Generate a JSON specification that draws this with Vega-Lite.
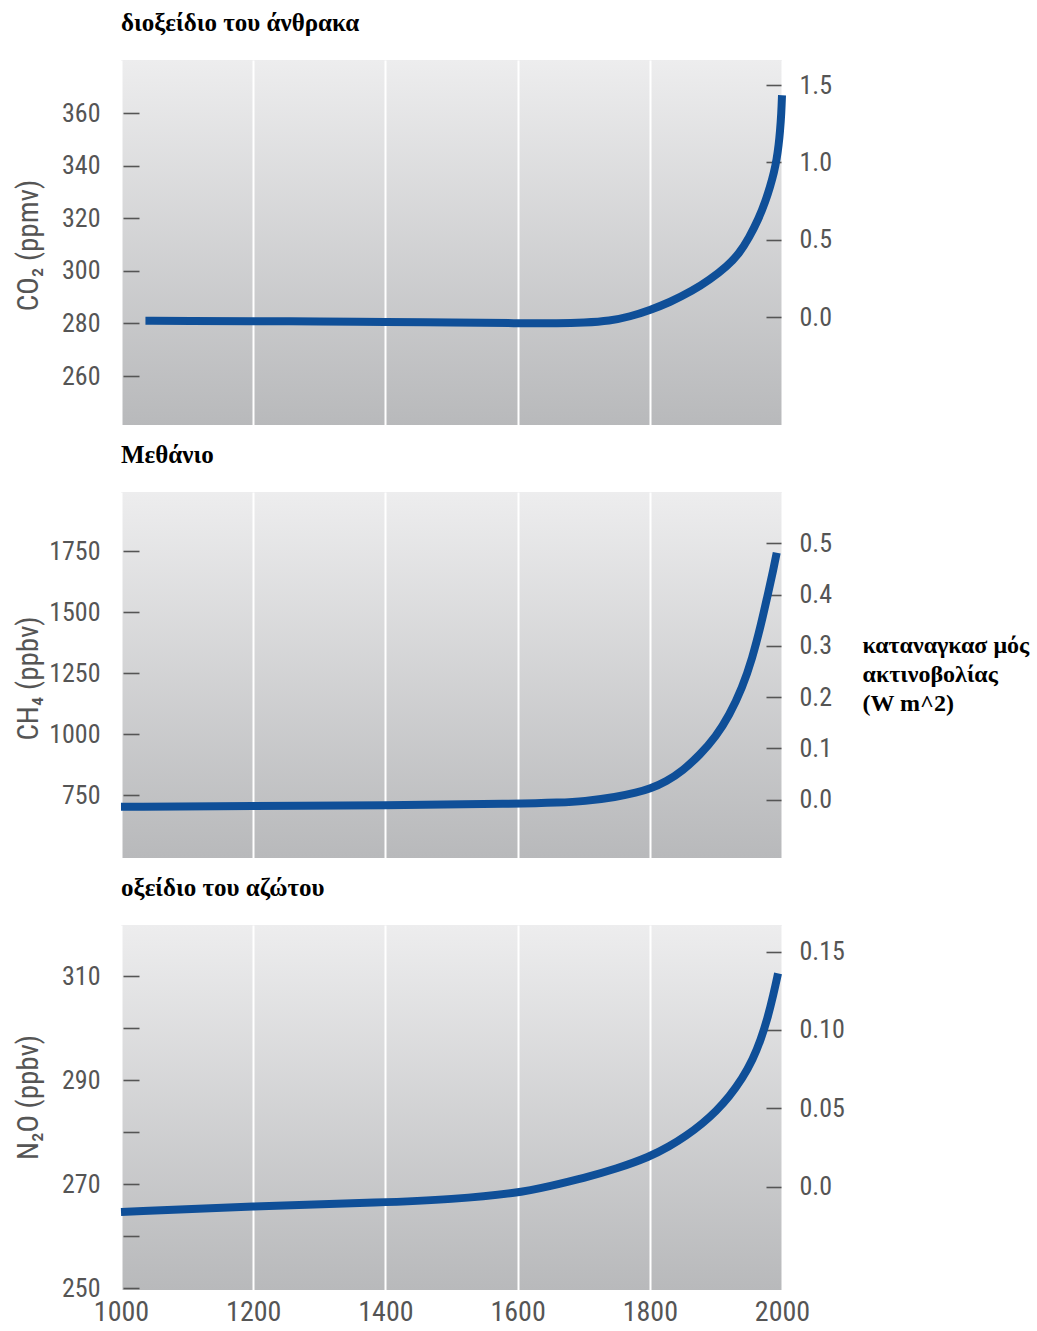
{
  "$schema": "https://vega.github.io/schema/vega-lite/v6.json",
  "padding": {"left": 14, "top": 11, "right": 5, "bottom": 5},
  "background": "white",
  "datasets": {
    "co2": [
      {"year": 1037, "v": 281.0}, {"year": 1100, "v": 281.0}, {"year": 1200, "v": 280.9},
      {"year": 1300, "v": 280.8}, {"year": 1400, "v": 280.6}, {"year": 1500, "v": 280.4},
      {"year": 1600, "v": 280.1}, {"year": 1664, "v": 280.0}, {"year": 1700, "v": 280.3},
      {"year": 1740, "v": 281.0}, {"year": 1770, "v": 282.6}, {"year": 1800, "v": 285.1},
      {"year": 1830, "v": 288.0}, {"year": 1865, "v": 292.5}, {"year": 1890, "v": 296.5},
      {"year": 1917, "v": 301.8}, {"year": 1935, "v": 306.5}, {"year": 1950, "v": 312.5},
      {"year": 1965, "v": 320.0}, {"year": 1975, "v": 326.5}, {"year": 1982, "v": 332.0},
      {"year": 1988, "v": 337.5}, {"year": 1992, "v": 342.5}, {"year": 1995, "v": 348.0},
      {"year": 1997, "v": 353.0}, {"year": 1999, "v": 360.0}, {"year": 2000, "v": 366.8}
    ],
    "ch4": [
      {"year": 1000, "v": 702}, {"year": 1200, "v": 705}, {"year": 1400, "v": 708},
      {"year": 1600, "v": 714}, {"year": 1664, "v": 719}, {"year": 1700, "v": 724},
      {"year": 1750, "v": 742}, {"year": 1780, "v": 760}, {"year": 1800, "v": 775},
      {"year": 1825, "v": 805}, {"year": 1850, "v": 850}, {"year": 1876, "v": 915},
      {"year": 1900, "v": 990}, {"year": 1920, "v": 1075}, {"year": 1940, "v": 1190},
      {"year": 1955, "v": 1310}, {"year": 1968, "v": 1445}, {"year": 1980, "v": 1590},
      {"year": 1987, "v": 1675}, {"year": 1992, "v": 1743}
    ],
    "n2o": [
      {"year": 1000, "v": 264.7}, {"year": 1200, "v": 265.8}, {"year": 1400, "v": 266.5},
      {"year": 1500, "v": 267.1}, {"year": 1600, "v": 268.3}, {"year": 1650, "v": 269.7},
      {"year": 1700, "v": 271.2}, {"year": 1750, "v": 273.0}, {"year": 1800, "v": 275.3},
      {"year": 1830, "v": 277.3}, {"year": 1855, "v": 279.3}, {"year": 1880, "v": 281.7},
      {"year": 1900, "v": 284.0}, {"year": 1920, "v": 286.8}, {"year": 1940, "v": 290.3},
      {"year": 1956, "v": 294.0}, {"year": 1968, "v": 297.8}, {"year": 1978, "v": 301.8},
      {"year": 1987, "v": 306.4}, {"year": 1994, "v": 310.5}
    ],
    "rf": [{"f": 0}]
  },
  "vconcat": [
    {
      "width": 661, "height": 365,
      "title": {"text": "διοξείδιο του άνθρακα"},
      "layer": [
        {
          "data": {"name": "co2"},
          "mark": {"type": "line", "color": "#0f4f98", "strokeWidth": 8, "interpolate": "basis"},
          "encoding": {
            "x": {"field": "year", "type": "quantitative", "scale": {"domain": [1000, 2000], "nice": false, "zero": false},
                  "axis": {"values": [1000, 1200, 1400, 1600, 1800, 2000], "labels": false, "ticks": false, "grid": true, "gridColor": "white", "gridWidth": 2, "title": null}},
            "y": {"field": "v", "type": "quantitative", "scale": {"domain": [241.4, 380.2], "nice": false, "zero": false},
                  "axis": {"orient": "left", "values": [260, 280, 300, 320, 340, 360], "format": "d", "offset": -18, "tickSize": 16, "labelPadding": 23,
                           "title": "CO₂ (ppmv)", "titleX": -111, "titleY": 185, "titleBaseline": "middle", "titleAlign": "center", "titleAngle": 270}}
          }
        },
        {
          "data": {"name": "rf"},
          "mark": {"type": "point", "opacity": 0},
          "encoding": {
            "y": {"field": "f", "type": "quantitative", "scale": {"domain": [-0.698, 1.662], "nice": false, "zero": false},
                  "axis": {"orient": "right", "values": [0, 0.5, 1, 1.5], "format": ".1f", "offset": -16, "tickSize": 15, "labelPadding": 18, "title": null}}
          }
        }
      ],
      "resolve": {"scale": {"y": "independent"}}
    },
    {
      "width": 661, "height": 366,
      "title": {"text": "Μεθάνιο"},
      "layer": [
        {
          "data": {"name": "ch4"},
          "mark": {"type": "line", "color": "#0f4f98", "strokeWidth": 8, "interpolate": "basis"},
          "encoding": {
            "x": {"field": "year", "type": "quantitative", "scale": {"domain": [1000, 2000], "nice": false, "zero": false},
                  "axis": {"values": [1000, 1200, 1400, 1600, 1800, 2000], "labels": false, "ticks": false, "grid": true, "gridColor": "white", "gridWidth": 2, "title": null}},
            "y": {"field": "v", "type": "quantitative", "scale": {"domain": [492, 1992], "nice": false, "zero": false},
                  "axis": {"orient": "left", "values": [750, 1000, 1250, 1500, 1750], "format": "d", "offset": -18, "tickSize": 16, "labelPadding": 23,
                           "title": "CH₄ (ppbv)", "titleX": -111, "titleY": 186, "titleBaseline": "middle", "titleAlign": "center", "titleAngle": 270}}
          }
        },
        {
          "data": {"name": "rf"},
          "mark": {"type": "point", "opacity": 0},
          "encoding": {
            "y": {"field": "f", "type": "quantitative", "scale": {"domain": [-0.114, 0.6], "nice": false, "zero": false},
                  "axis": {"orient": "right", "values": [0, 0.1, 0.2, 0.3, 0.4, 0.5], "format": ".1f", "offset": -16, "tickSize": 15, "labelPadding": 18,
                           "title": ["καταναγκασ μός", "ακτινοβολίας", "(W m^2)"], "titleAngle": 0, "titleAlign": "left", "titleBaseline": "top",
                           "titleX": 96, "titleY": 141, "titleLineHeight": 29, "titleFont": "Liberation Serif", "titleFontWeight": "bold", "titleFontSize": 24, "titleColor": "black"}}
          }
        }
      ],
      "resolve": {"scale": {"y": "independent"}}
    },
    {
      "width": 661, "height": 365,
      "title": {"text": "οξείδιο του αζώτου", "offset": 24},
      "layer": [
        {
          "data": {"name": "n2o"},
          "mark": {"type": "line", "color": "#0f4f98", "strokeWidth": 8, "interpolate": "basis"},
          "encoding": {
            "x": {"field": "year", "type": "quantitative", "scale": {"domain": [1000, 2000], "nice": false, "zero": false},
                  "axis": {"values": [1000, 1200, 1400, 1600, 1800, 2000], "format": "d", "labels": true, "ticks": false, "grid": true, "gridColor": "white", "gridWidth": 2, "title": null, "labelFontSize": 28, "labelPadding": 8, "labelFlush": false}},
            "y": {"field": "v", "type": "quantitative", "scale": {"domain": [249.7, 319.8], "nice": false, "zero": false},
                  "axis": {"orient": "left", "values": [250, 260, 270, 280, 290, 300, 310], "labelExpr": "datum.value % 20 == 10 ? datum.label : ''", "labelFlush": true, "offset": -18, "tickSize": 16, "labelPadding": 23,
                           "title": "N₂O (ppbv)", "titleX": -111, "titleY": 172, "titleBaseline": "middle", "titleAlign": "center", "titleAngle": 270}}
          }
        },
        {
          "data": {"name": "rf"},
          "mark": {"type": "point", "opacity": 0},
          "encoding": {
            "y": {"field": "f", "type": "quantitative", "scale": {"domain": [-0.066, 0.167], "nice": false, "zero": false},
                  "axis": {"orient": "right", "values": [0, 0.05, 0.1, 0.15], "labelExpr": "datum.value == 0 ? '0.0' : format(datum.value, '.2f')", "offset": -16, "tickSize": 15, "labelPadding": 18, "title": null}}
          }
        }
      ],
      "resolve": {"scale": {"y": "independent"}}
    }
  ],
  "config": {
    "font": "'Roboto Condensed', 'Noto Sans Condensed', 'DejaVu Sans Condensed', Roboto, sans-serif",
    "concat": {"spacing": 18},
    "view": {"stroke": null, "fill": {"gradient": "linear", "x1": 0, "y1": 0, "x2": 0, "y2": 1, "stops": [{"offset": 0, "color": "#ededee"}, {"offset": 1, "color": "#b8b9bb"}]}},
    "axis": {"domain": false, "grid": false, "labelColor": "#555555", "labelFontSize": 26, "titleColor": "#555555", "titleFontSize": 29, "titleFontWeight": "normal", "tickColor": "#555555", "tickWidth": 1.6},
    "title": {"anchor": "start", "frame": "group", "font": "Liberation Serif", "fontWeight": "bold", "fontSize": 25, "color": "black", "offset": 24}
  }
}
